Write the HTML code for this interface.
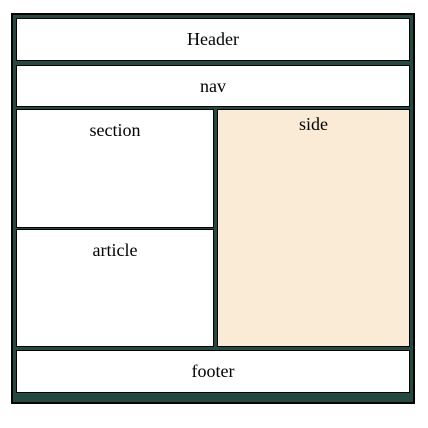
<!DOCTYPE html>
<html><head><style>
body{margin:0;width:428px;height:428px;background:#fff;position:relative;font-family:"Liberation Serif",serif;font-size:18px;}
div{position:absolute;box-sizing:border-box;}
.o{left:11px;top:13px;width:404px;height:391px;background:#234a40;border:2px solid #000;}
.b{background:#fff;border:1px solid #000;text-align:center;color:#000;}
</style></head><body>
<div class="o"></div>
<div class="b" style="left:16px;top:18px;width:394px;height:43px;line-height:41px;">Header</div>
<div class="b" style="left:16px;top:65px;width:394px;height:42px;line-height:40px;">nav</div>
<div class="b" style="left:16px;top:109px;width:198px;height:119px;padding-top:10px;">section</div>
<div class="b" style="left:16px;top:229px;width:198px;height:118px;padding-top:10px;">article</div>
<div class="b" style="left:217px;top:109px;width:193px;height:238px;background:#faebd7;padding-top:4px;">side</div>
<div class="b" style="left:16px;top:350px;width:394px;height:43px;line-height:41px;">footer</div>
</body></html>
